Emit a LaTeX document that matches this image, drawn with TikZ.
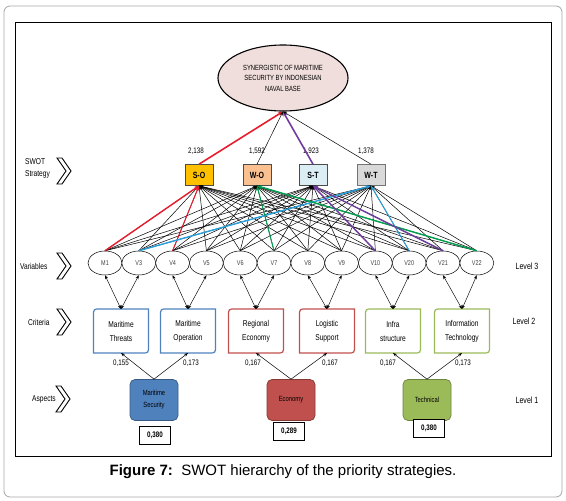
\documentclass[tikz,border=0pt]{standalone}
\usepackage{fontspec}
\setmainfont{Liberation Sans}
\newfontfamily\narrowfont[FakeStretch=0.78]{Liberation Sans}
\usetikzlibrary{arrows.meta,shapes.geometric}
\definecolor{goalfill}{RGB}{240,222,220}
\definecolor{sofill}{RGB}{255,192,0}
\definecolor{wofill}{RGB}{250,192,144}
\definecolor{stfill}{RGB}{218,238,243}
\definecolor{wtfill}{RGB}{217,217,217}
\definecolor{asblue}{RGB}{79,129,189}
\definecolor{asred}{RGB}{192,80,77}
\definecolor{asgreen}{RGB}{155,187,89}
\definecolor{hired}{RGB}{230,30,45}
\definecolor{hiblue}{RGB}{40,160,220}
\definecolor{higreen}{RGB}{0,160,80}
\definecolor{hipurple}{RGB}{112,60,160}
\begin{document}
\begin{tikzpicture}[x=1pt,y=-1pt,
  goal/.style={ellipse,draw,line width=1.1pt,fill=goalfill,minimum width=130pt,minimum height=66pt,inner sep=0pt,align=center,font=\narrowfont\fontsize{7.5}{10.5}\selectfont},
  swot/.style={draw=black!70,line width=0.6pt,minimum width=28pt,minimum height=21pt,inner sep=0pt,font=\narrowfont\bfseries\fontsize{9}{10}\selectfont},
  val/.style={font=\narrowfont\fontsize{8}{9}\selectfont,inner sep=0pt},
  var/.style={ellipse,draw,line width=0.5pt,fill=white,minimum width=34pt,minimum height=24pt,inner sep=0pt,font=\narrowfont\fontsize{7}{8}\selectfont,text=black!75},
  crit/.style={minimum width=55pt,minimum height=44pt,inner sep=0pt,outer sep=0pt,align=center,font=\narrowfont\fontsize{8.5}{14}\selectfont},
  aspect/.style={draw,rounded corners=5pt,line width=0.7pt,minimum width=48pt,minimum height=41pt,inner sep=0pt,align=center,font=\narrowfont\fontsize{7.5}{12}\selectfont},
  wbox/.style={draw,line width=0.5pt,fill=white,minimum width=31pt,minimum height=18pt,inner sep=0pt,font=\narrowfont\bfseries\fontsize{8}{9}\selectfont},
  wt/.style={font=\narrowfont\fontsize{8}{9}\selectfont,inner sep=0pt},
  side/.style={font=\narrowfont\fontsize{8.5}{12}\selectfont,inner sep=0pt,align=left},
  lvl/.style={font=\narrowfont\fontsize{9}{10}\selectfont,inner sep=0pt},
  thinarr/.style={line width=0.5pt,-{Stealth[length=4pt,width=3pt]}},
  hiarr/.style={line width=1.4pt,-{Stealth[length=5pt,width=4pt]}},
  duoarr/.style={line width=0.45pt,{Stealth[length=4pt,width=3pt]}-{Stealth[length=4pt,width=3pt]}},
  chev/.pic={\draw[line width=0.9pt,fill=white,line join=miter] (0,0) -- (5,0) -- (14,13) -- (5,26) -- (0,26) -- (9,13) -- cycle;}
]
\useasboundingbox (0,0) rectangle (566,501);
% frames
\draw[black!35,line width=0.8pt,rounded corners=6pt] (4,6) rectangle (562,497);
\draw[black,line width=0.9pt] (15,22) rectangle (551,456);

% goal
\node[goal] (goal) at (283,78) {SYNERGISTIC OF MARITIME\\SECURITY BY INDONESIAN\\NAVAL BASE};

% SWOT boxes
\node[swot,fill=sofill] (SO) at (199,175) {S-O};
\node[swot,fill=wofill] (WO) at (257,175) {W-O};
\node[swot,fill=stfill] (ST) at (313,175) {S-T};
\node[swot,fill=wtfill,draw=black!55] (WT) at (371,175) {W-T};
\node[val] (vSO) at (196,151) {2,138};
\node[val] (vWO) at (257,151) {1,592};
\node[val] (vST) at (311,151) {1,923};
\node[val] (vWT) at (366,151) {1,378};

% variables
\foreach \i/\lab [count=\k from 0] in {1/M1,2/V3,3/V4,4/V5,5/V6,6/V7,7/V8,8/V9,9/V10,10/V20,11/V21,12/V22}
  \node[var] (v\i) at ({105+33.8*\k},263) {\lab};

% variable -> SWOT thin lines
\foreach \i in {1,...,12}
  \foreach \s in {SO,WO,ST,WT}
    \draw[thinarr] (v\i.north) -- (\s.south);

% highlighted
\draw[hiarr,hired] (v1.north) -- (SO.south);
\draw[hiarr,hired,line width=1pt] (v3.north) -- (SO.south);
\draw[hiarr,hiblue] (v2.north) -- (WT.south);
\draw[hiarr,hiblue,line width=1pt] (v10.north) -- (WT.south);
\draw[hiarr,higreen,line width=1pt] (v6.north) -- (WO.south);
\draw[hiarr,higreen] (v12.north) -- (WO.south);
\draw[hiarr,hipurple] (v9.north) -- (ST.south);
\draw[hiarr,hipurple] (v11.north) -- (ST.south);

% SWOT -> goal
\draw[hiarr,hired,line width=1.6pt] (SO.north) -- (goal.south);
\draw[thinarr] (WO.north) -- (goal.south);
\draw[hiarr,hipurple,line width=1.6pt] (ST.north) -- (goal.south);
\draw[thinarr] (WT.north) -- (goal.south);

% criteria
\node[crit] (c1) at (121,331) {Maritime\\Threats};
\node[crit] (c2) at (188,331) {Maritime\\Operation};
\node[crit] (c3) at (256,331) {Regional\\Economy};
\node[crit] (c4) at (327,331) {Logistic\\Support};
\node[crit] (c5) at (393,331) {Infra\\structure};
\node[crit] (c6) at (462,331) {Information\\Technology};
\foreach \c/\col in {c1/asblue,c2/asblue,c3/asred,c4/asred,c5/asgreen,c6/asgreen}
  \draw[\col,line width=1.2pt] ([yshift=-7pt]\c.north west) .. controls (\c.north west) .. ([xshift=7pt]\c.north west)
     -- (\c.north east) -- ([yshift=7pt]\c.south east) .. controls (\c.south east) .. ([xshift=-7pt]\c.south east)
     -- (\c.south west) -- cycle;

% criteria -> variables
\foreach \c/\a/\b in {c1/v1/v2,c2/v3/v4,c3/v5/v6,c4/v7/v8,c5/v9/v10,c6/v11/v12}{
  \draw[duoarr] (\c.north) -- (\a.south);
  \draw[duoarr] (\c.north) -- (\b.south);
}

% aspects
\node[aspect,fill=asblue,draw=asblue!70!black] (a1) at (154,400) {Maritime\\Security};
\node[aspect,fill=asred,draw=asred!70!black] (a2) at (291,400) {Economy};
\node[aspect,fill=asgreen,draw=asgreen!70!black] (a3) at (427,400) {Technical};
\node[wbox] (w1) at (155,435) {0,380};
\node[wbox] (w2) at (289,431) {0,289};
\node[wbox] (w3) at (429,428) {0,380};

\foreach \a/\l/\r in {a1/c1/c2,a2/c3/c4,a3/c5/c6}{
  \draw[thinarr] (\a.north) -- (\l.south);
  \draw[thinarr] (\a.north) -- (\r.south);
}
\node[wt] (p1) at (121,363) {0,155};
\node[wt] (p2) at (191,363) {0,173};
\node[wt] (p3) at (253,363) {0,167};
\node[wt] (p4) at (330,363) {0,167};
\node[wt] (p5) at (388,363) {0,167};
\node[wt] (p6) at (463,363) {0,173};

% side labels
\node[side,anchor=west] (lswot) at (25,168) {SWOT\\Strategy};
\node[side,anchor=west] (lvar) at (20,266) {Variables};
\node[side,anchor=west] (lcrit) at (28,322) {Criteria};
\node[side,anchor=west] (lasp) at (32,399) {Aspects};
\pic at (57,158) {chev};
\pic at (57,253) {chev};
\pic at (57,309) {chev};
\pic at (56,386) {chev};

\node[lvl] (l3) at (527,266) {Level 3};
\node[lvl] (l2) at (524,321) {Level 2};
\node[lvl] (l1) at (527,400) {Level 1};

% caption
\node[font=\fontsize{15}{17}\selectfont,inner sep=0pt] (cap) at (283,472) {\textbf{Figure 7:}\ \ SWOT hierarchy of the priority strategies.};
\end{tikzpicture}
\end{document}
